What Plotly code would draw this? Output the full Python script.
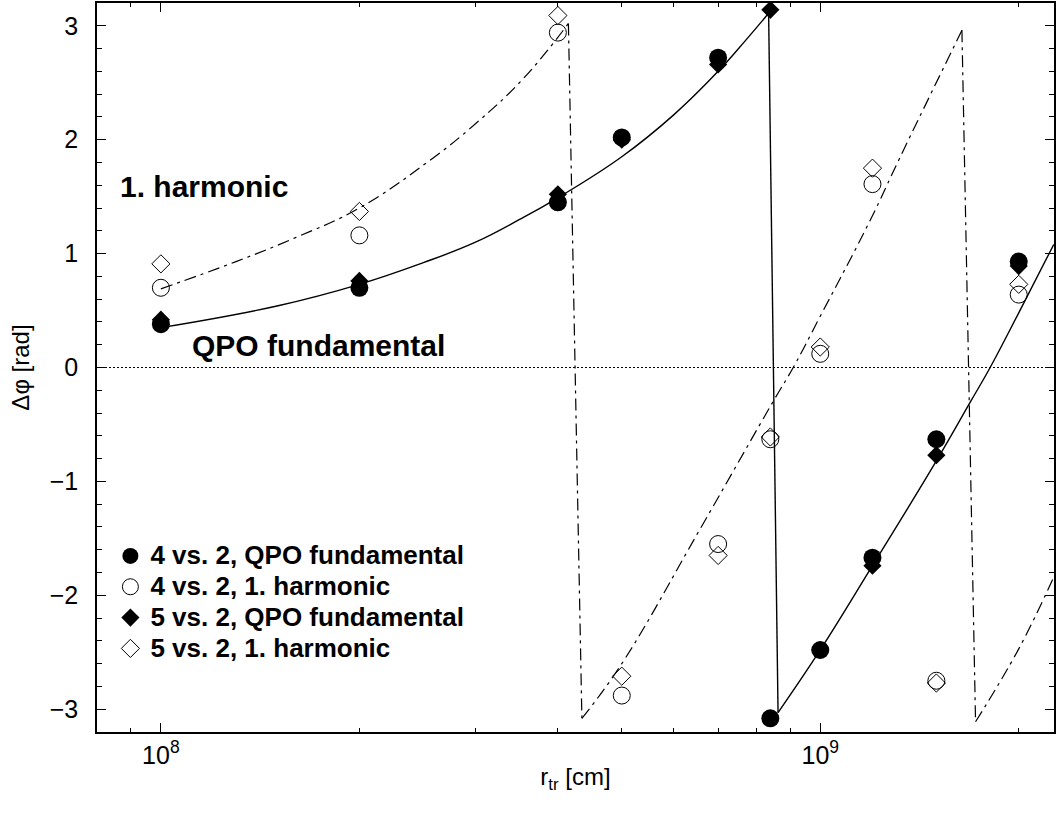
import plotly.graph_objects as go

# ---------------- data ----------------
r_pts = [1e8, 2e8, 4e8, 5e8, 7e8, 8.4e8, 1e9, 1.2e9, 1.5e9, 2e9]
fund_4v2 = [0.38, 0.70, 1.45, 2.02, 2.72, -3.08, -2.48, -1.67, -0.63, 0.93]
harm_4v2 = [0.70, 1.16, 2.94, -2.88, -1.55, -0.63, 0.12, 1.61, -2.75, 0.64]
fund_5v2 = [0.42, 0.76, 1.52, 2.00, 2.66, 3.14, -2.48, -1.74, -0.77, 0.89]
harm_5v2 = [0.91, 1.37, 3.09, -2.71, -1.65, -0.61, 0.18, 1.75, -2.77, 0.73]

# model curve for the QPO fundamental (wrapped into [-pi, pi])
fund_model_r = [
    [1e8, 1.5e8, 2e8, 2.5e8, 3e8, 3.5e8, 4e8, 5e8, 6e8, 7e8, 7.7e8, 8.35e8],
    [8.63e8, 1e9, 1.2e9, 1.5e9, 1.69e9, 1.81e9, 2e9, 2.26e9],
]
fund_model_phi = [
    [0.35, 0.54, 0.73, 0.92, 1.10, 1.30, 1.49, 1.85, 2.22, 2.60, 2.87, 3.11],
    [-3.03, -2.48, -1.74, -0.82, -0.30, 0.00, 0.48, 1.08],
]

# model curve for the 1. harmonic (wrapped into [-pi, pi])
harm_model_r = [
    [1e8, 1.3e8, 1.6e8, 2e8, 2.56e8, 3e8, 3.55e8, 4.15e8],
    [4.35e8, 5e8, 6.6e8, 8.5e8, 9.1e8, 1e9, 1.19e9, 1.32e9, 1.64e9],
    [1.72e9, 2e9, 2.26e9],
]
harm_model_phi = [
    [0.69, 0.93, 1.14, 1.40, 1.82, 2.14, 2.54, 3.02],
    [-3.08, -2.60, -1.40, -0.29, 0.00, 0.45, 1.29, 1.84, 2.96],
    [-3.11, -2.47, -1.84],
]

x_tickvals = [1e8, 1e9]
x_ticktext = ["10<sup>8</sup>", "10<sup>9</sup>"]
x_minor = [9e7, 2e8, 3e8, 4e8, 5e8, 6e8, 7e8, 8e8, 9e8, 2e9]
y_tickvals = [-3, -2, -1, 0, 1, 2, 3]

legend_names = ["4 vs. 2, QPO fundamental", "4 vs. 2, 1. harmonic",
                "5 vs. 2, QPO fundamental", "5 vs. 2, 1. harmonic"]

FONT = "Liberation Sans, Arial, Helvetica, sans-serif"
harm_dash = "12px,5px,3px,5px"


def big(s):
    return '<span style="font-size:26px">' + s + "</span>"


fig = go.Figure()


def add_model(rs, phis, dash, width):
    for i, (r, p) in enumerate(zip(rs, phis)):
        fig.add_trace(go.Scatter(x=r, y=p, mode="lines", showlegend=False,
                                 hoverinfo="skip",
                                 line=dict(color="black", width=width, dash=dash,
                                           shape="spline", smoothing=1.2)))
        if i + 1 < len(rs):
            fig.add_trace(go.Scatter(x=[r[-1], rs[i + 1][0]], y=[p[-1], phis[i + 1][0]],
                                     mode="lines", showlegend=False, hoverinfo="skip",
                                     line=dict(color="black", width=width, dash=dash)))


add_model(fund_model_r, fund_model_phi, "solid", 1.4)
add_model(harm_model_r, harm_model_phi, harm_dash, 1.2)

fig.add_hline(y=0, line=dict(color="black", width=1, dash="2px,2px"))

fig.add_trace(go.Scatter(x=r_pts, y=fund_4v2, mode="markers",
                         name=big(legend_names[0]),
                         marker=dict(symbol="circle", size=18, color="black")))
fig.add_trace(go.Scatter(x=r_pts, y=harm_4v2, mode="markers",
                         name=big(legend_names[1]),
                         marker=dict(symbol="circle-open", size=17, color="black",
                                     line=dict(width=1, color="black"))))
fig.add_trace(go.Scatter(x=r_pts, y=fund_5v2, mode="markers",
                         name=big(legend_names[2]),
                         marker=dict(symbol="diamond", size=14, color="black")))
fig.add_trace(go.Scatter(x=r_pts, y=harm_5v2, mode="markers",
                         name=big(legend_names[3]),
                         marker=dict(symbol="diamond-open", size=14, color="black",
                                     line=dict(width=1, color="black"))))

fig.add_annotation(x=0.022, y=0.748, xref="paper", yref="paper", xanchor="left",
                   yanchor="middle", showarrow=False, text="1. harmonic",
                   font=dict(family=FONT, size=30, color="black", weight="bold"))
fig.add_annotation(x=0.097, y=0.530, xref="paper", yref="paper", xanchor="left",
                   yanchor="middle", showarrow=False, text="QPO fundamental",
                   font=dict(family=FONT, size=30, color="black", weight="bold"))

fig.update_layout(
    width=1057, height=813,
    margin=dict(l=97, r=2, t=1, b=81),
    paper_bgcolor="white", plot_bgcolor="white",
    font=dict(family=FONT, color="black", size=24),
    showlegend=True,
    legend=dict(x=0.014, y=0.2695, xanchor="left", yanchor="top",
                bgcolor="rgba(0,0,0,0)", borderwidth=0, itemsizing="trace",
                font=dict(family=FONT, size=21.4, color="black", weight="bold"),
                tracegroupgap=0),
    xaxis=dict(type="log", range=[7.9031, 9.3545],
               tickmode="array", tickvals=x_tickvals, ticktext=x_ticktext,
               ticks="inside", ticklen=9, tickwidth=1, tickcolor="black",
               showline=True, linecolor="black", linewidth=1.5, mirror="ticks",
               showgrid=False, zeroline=False,
               tickfont=dict(size=25),
               minor=dict(tickmode="array", tickvals=x_minor, ticks="inside", ticklen=4,
                          tickwidth=1, tickcolor="black", showgrid=False),
               title=dict(text="r<sub>tr</sub> [cm]", font=dict(size=24), standoff=0)),
    yaxis=dict(range=[-3.2, 3.2], tickmode="array", tickvals=y_tickvals,
               ticks="inside", ticklen=9, tickwidth=1, tickcolor="black",
               showline=True, linecolor="black", linewidth=1.5, mirror="ticks",
               showgrid=False, zeroline=False, ticklabelstandoff=12,
               tickfont=dict(size=25),
               minor=dict(dtick=0.2, ticks="inside", ticklen=5, tickwidth=1,
                          tickcolor="black", showgrid=False),
               title=dict(text="Δφ [rad]", font=dict(size=24), standoff=13)),
)

fig.write_html("out.html")
